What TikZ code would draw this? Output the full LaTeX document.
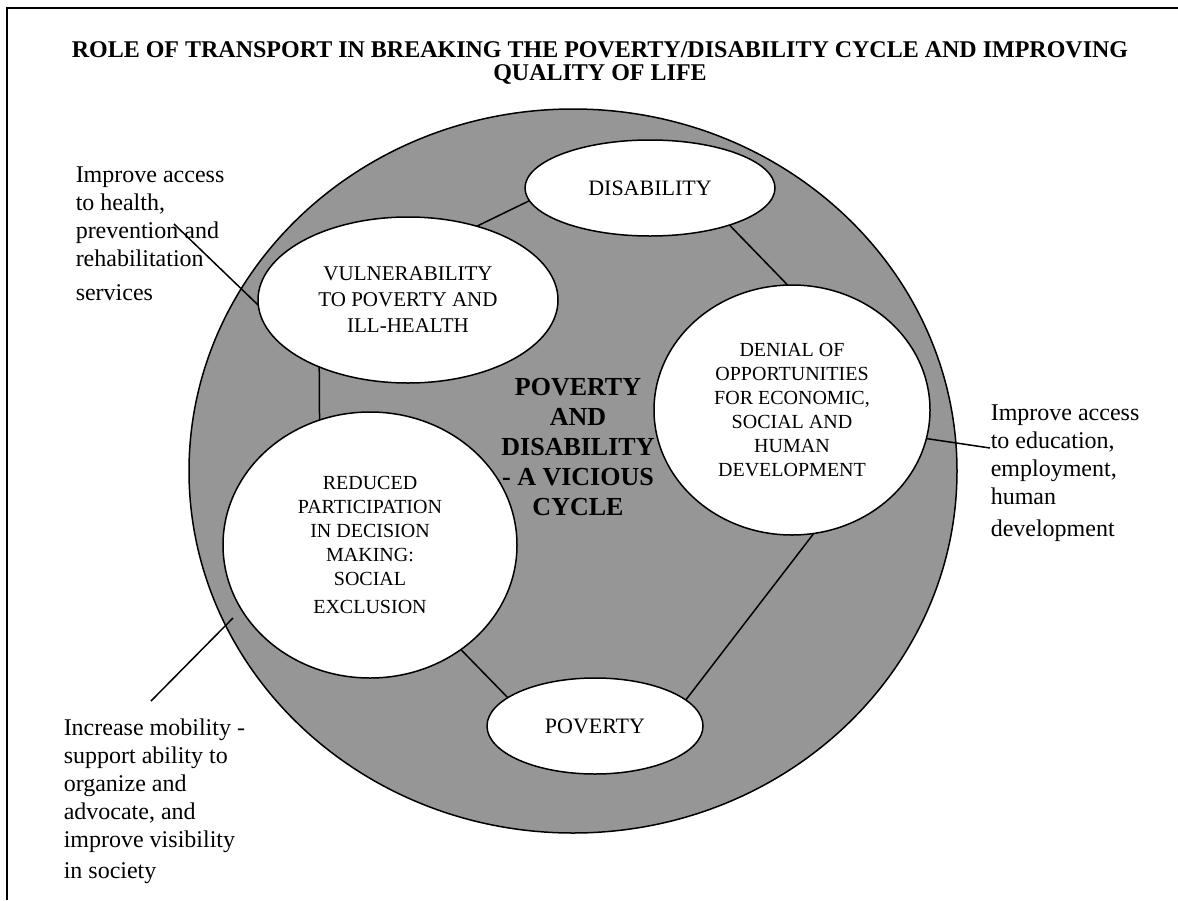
\documentclass[tikz,border=0pt]{standalone}
\usepackage{fontspec}
\setmainfont{Liberation Serif}
\usetikzlibrary{shapes.geometric}
\definecolor{ringgray}{RGB}{150,150,150}

\begin{document}
\begin{tikzpicture}[x=0.5pt, y=-0.5pt, line width=0.75pt,
		bubble/.style={draw, ellipse, fill=white, inner sep=0pt, outer sep=0pt, align=center, font=\fontsize{10}{12}\selectfont},
		note/.style={anchor=north west, inner sep=0pt, align=left, font=\fontsize{12}{14}\selectfont}]
	\useasboundingbox (0,0) rectangle (1178,900);
	\draw[line width=1pt] (1178,8) -- (7,8) -- (7,900);
	
	\node[align=center, font=\bfseries\fontsize{12}{11.5}\selectfont] (title) at (600,63) {ROLE OF TRANSPORT IN BREAKING THE POVERTY/DISABILITY CYCLE AND IMPROVING\\QUALITY OF LIFE};
	
	\node[draw, ellipse, fill=ringgray, minimum width=384pt, minimum height=362pt, inner sep=0pt, outer sep=0pt] (ring) at (573,471) {};
	\node[align=center, font=\bfseries\fontsize{13}{15}\selectfont] (cycle) at (578,447) {POVERTY\\AND\\DISABILITY\\- A VICIOUS\\CYCLE};
	
	\node[bubble, minimum width=125pt, minimum height=48pt, font=\fontsize{11}{13}\selectfont] (dis) at (650,188) {DISABILITY};
	\node[bubble, minimum width=150pt, minimum height=83pt, font=\fontsize{10.5}{13}\selectfont] (vuln) at (408,300) {VULNERABILITY\\TO POVERTY AND\\ILL-HEALTH};
	\node[bubble, minimum width=147pt, minimum height=133pt] (reduced) at (370,545) {REDUCED\\PARTICIPATION\\IN DECISION\\MAKING:\\SOCIAL\\[2pt]EXCLUSION};
	\node[bubble, minimum width=138pt, minimum height=125pt] (denial) at (792,410) {DENIAL OF\\OPPORTUNITIES\\FOR ECONOMIC,\\SOCIAL AND\\HUMAN\\DEVELOPMENT};
	\node[bubble, minimum width=108pt, minimum height=48pt, font=\fontsize{11}{13}\selectfont] (poverty) at (595,726) {POVERTY};
	
	% the cycle
	\draw (vuln.47) -- (dis.186);
	\draw (dis.-25) -- (denial.92);
	\draw (vuln.217) -- (reduced.112);
	\draw (reduced.-49) -- (poverty.162);
	\draw (denial.-80) -- (poverty.16);
	
	% what transport can do
	\node[note] (health) at (75,166) {Improve access\\to health,\\prevention and\\rehabilitation\\[3pt]services};
	\node[note] (edu) at (990,404) {Improve access\\to education,\\employment,\\human\\[2pt]development};
	\node[note] (mobility) at (63,718) {Increase mobility -\\support ability to\\organize and\\advocate, and\\improve visibility\\[1.5pt]in society};
	
	\coordinate (healthend) at (174,224);
	\coordinate (eduend) at (990,448);
	\coordinate (mobend) at (151,701);
	\coordinate (mobin) at (233,618);
	\draw (healthend) -- (vuln.182);
	\draw (denial.-12) -- (eduend);
	\draw (mobend) -- (mobin);
\end{tikzpicture}
\end{document}
